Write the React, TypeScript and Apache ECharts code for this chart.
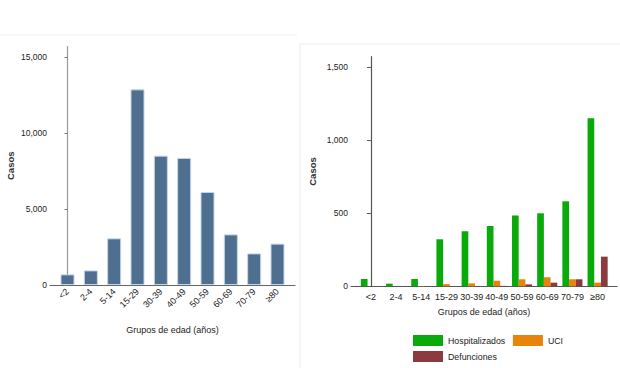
import React, { useEffect, useRef } from "react";
import * as echarts from "echarts";

const ageGroups = ["<2", "2-4", "5-14", "15-29", "30-39", "40-49", "50-59", "60-69", "70-79", "≥80"];
const casos = [700, 960, 3070, 12870, 8510, 8360, 6120, 3330, 2080, 2720];
const hospitalizados = [50, 18, 50, 322, 377, 413, 484, 500, 582, 1151];
const uci = [0, 0, 2, 15, 20, 38, 48, 62, 48, 25];
const defunciones = [0, 0, 0, 0, 1, 3, 13, 25, 48, 203];
const leftTicks = [0, 5000, 10000, 15000];
const rightTicks = [0, 500, 1000, 1500];

const FONT = "Liberation Sans, Arial, sans-serif";
const fmt = (v: number) => Math.round(v).toLocaleString("en-US");
const pairs = (arr: number[]) => arr.map((v, i) => [i, v]);
const catIdx = ageGroups.map((_, i) => i);

export default function App() {
  const ref = useRef<HTMLDivElement>(null);
  useEffect(() => {
    document.body.style.margin = "0";
    const chart = echarts.init(ref.current!, null, { renderer: "svg" });
    const catLabel = (v: number) => ageGroups[Math.round(v)] ?? "";
    chart.setOption({
      animation: false,
      backgroundColor: "#ffffff",
      textStyle: { fontFamily: FONT },
      grid: [
        { left: 50, top: 46.5, width: 245, height: 238.5 },
        { left: 351, top: 56.7, width: 266, height: 229.6 },
      ],
      xAxis: [
        {
          gridIndex: 0,
          type: "value",
          min: -0.75,
          max: 9.75,
          splitLine: { show: false },
          axisLine: { show: true, lineStyle: { color: "#666", width: 1.2 } },
          axisTick: { show: false },
          axisLabel: {
            customValues: catIdx,
            formatter: catLabel,
            rotate: 45,
            margin: 5,
            fontSize: 9,
            color: "#222",
            fontFamily: FONT,
          },
          name: "Grupos de edad (años)",
          nameLocation: "middle",
          nameGap: 40,
          nameTextStyle: { fontSize: 9, color: "#222", fontFamily: FONT },
        },
        {
          gridIndex: 1,
          type: "value",
          min: -0.79,
          max: 9.77,
          splitLine: { show: false },
          axisLine: { show: true, lineStyle: { color: "#555", width: 1.2 } },
          axisTick: { show: false },
          axisLabel: {
            customValues: catIdx,
            formatter: catLabel,
            margin: 6,
            fontSize: 9,
            color: "#222",
            fontFamily: FONT,
          },
          name: "Grupos de edad (años)",
          nameLocation: "middle",
          nameGap: 21,
          nameTextStyle: { fontSize: 9, color: "#222", fontFamily: FONT },
        },
      ],
      yAxis: [
        {
          gridIndex: 0,
          type: "value",
          min: 0,
          max: 15690,
          splitLine: { show: false },
          axisLine: { show: true, lineStyle: { color: "#999", width: 1.2 } },
          axisTick: { show: true, customValues: leftTicks, length: 3, lineStyle: { color: "#777" } },
          axisLabel: { customValues: leftTicks, formatter: fmt, fontSize: 8.5, color: "#222", margin: 3, fontFamily: FONT },
          name: "Casos",
          nameLocation: "middle",
          nameGap: 35,
          nameTextStyle: { fontSize: 9.5, fontWeight: "bold", color: "#333", fontFamily: FONT },
        },
        {
          gridIndex: 1,
          type: "value",
          min: 0,
          max: 1572,
          splitLine: { show: false },
          axisLine: { show: true, lineStyle: { color: "#555", width: 1.2 } },
          axisTick: { show: true, customValues: rightTicks, length: 4, lineStyle: { color: "#555" } },
          axisLabel: { customValues: rightTicks, formatter: fmt, fontSize: 8.5, color: "#222", margin: 3, fontFamily: FONT },
          name: "Casos",
          nameLocation: "middle",
          nameGap: 34,
          nameTextStyle: { fontSize: 9.5, fontWeight: "bold", color: "#333", fontFamily: FONT },
        },
      ],
      legend: [
        {
          left: 408,
          top: 330,
          itemWidth: 30,
          itemHeight: 11,
          itemGap: 7.7,
          icon: "rect",
          data: ["Hospitalizados", "UCI"],
          textStyle: { fontSize: 8.8, color: "#222", width: 60, fontFamily: FONT },
        },
        {
          left: 408,
          top: 346,
          itemWidth: 30,
          itemHeight: 11,
          icon: "rect",
          data: ["Defunciones"],
          textStyle: { fontSize: 8.8, color: "#222", fontFamily: FONT },
        },
      ],
      graphic: [
        { type: "line", shape: { x1: 0, y1: 35, x2: 297, y2: 35 }, style: { stroke: "#f0f0f0", lineWidth: 1 } },
        { type: "line", shape: { x1: 300, y1: 44, x2: 620, y2: 44 }, style: { stroke: "#eeeeee", lineWidth: 1 } },
        { type: "line", shape: { x1: 300, y1: 44, x2: 300, y2: 368 }, style: { stroke: "#eeeeee", lineWidth: 1 } },
      ],
      series: [
        {
          name: "Casos",
          type: "bar",
          xAxisIndex: 0,
          yAxisIndex: 0,
          barWidth: 14,
          data: pairs(casos),
          itemStyle: { color: "#4f6f90", borderColor: "#c3d6e6", borderWidth: 1 },
        },
        {
          name: "Hospitalizados",
          type: "bar",
          xAxisIndex: 1,
          yAxisIndex: 1,
          barWidth: 6.7,
          barGap: "0%",
          data: pairs(hospitalizados),
          itemStyle: { color: "#0aaa0a" },
        },
        {
          name: "UCI",
          type: "bar",
          xAxisIndex: 1,
          yAxisIndex: 1,
          barWidth: 6.7,
          barGap: "0%",
          data: pairs(uci),
          itemStyle: { color: "#e8830c" },
        },
        {
          name: "Defunciones",
          type: "bar",
          xAxisIndex: 1,
          yAxisIndex: 1,
          barWidth: 6.7,
          barGap: "0%",
          data: pairs(defunciones),
          itemStyle: { color: "#8b3a3f" },
        },
      ],
    });
    return () => chart.dispose();
  }, []);
  return <div ref={ref} style={{ position: "absolute", left: 0, top: 0, width: 620, height: 368 }} />;
}
